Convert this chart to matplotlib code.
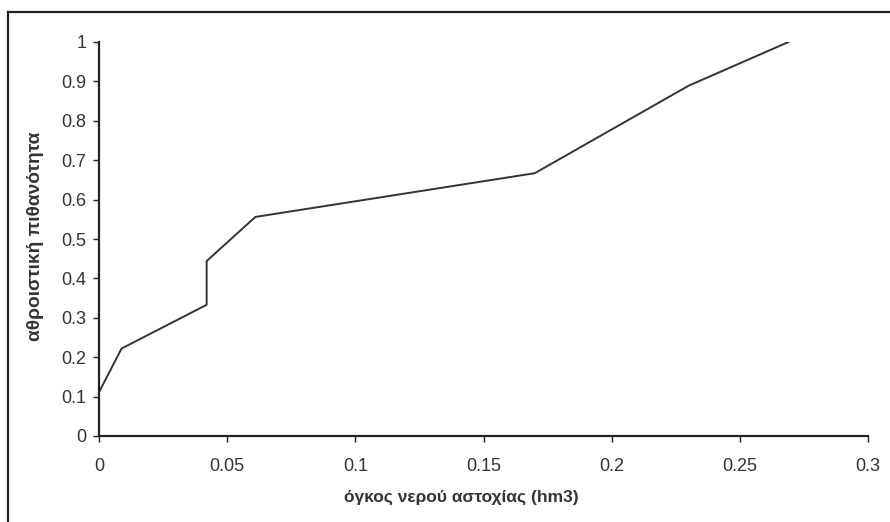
import matplotlib
matplotlib.use("Agg")
import matplotlib.pyplot as plt
from matplotlib.lines import Line2D

plt.rcParams['font.family'] = ['Liberation Sans', 'DejaVu Sans']

# δεδομένα
volume = [0.0, 0.0088, 0.042, 0.042, 0.061, 0.170, 0.200, 0.230, 0.269]
prob = [0.111, 0.222, 0.333, 0.444, 0.556, 0.667, 0.778, 0.889, 1.0]
xticks = [0, 0.05, 0.1, 0.15, 0.2, 0.25, 0.3]
yticks = [0, 0.1, 0.2, 0.3, 0.4, 0.5, 0.6, 0.7, 0.8, 0.9, 1]

W, H = 890, 522
fig = plt.figure(figsize=(W / 100, H / 100), dpi=100)
ax = fig.add_axes([99 / W, 1 - 436 / H, (868 - 99) / W, (436 - 42) / H])

ax.plot(volume, prob, color='#333333', lw=1.4)

ax.set_xlim(0, 0.3)
ax.set_ylim(0, 1)
ax.set_xticks(xticks)
ax.set_xticklabels([f'{v:g}' for v in xticks])
ax.set_yticks(yticks)
ax.set_yticklabels([f'{v:g}' for v in yticks])
ax.tick_params(direction='out', length=4, width=1, colors='#222222',
               labelsize=13, labelcolor='#333333')
ax.tick_params(axis='x', pad=12)
ax.tick_params(axis='y', pad=5)

for s in ['top', 'right']:
    ax.spines[s].set_visible(False)
for s in ['left', 'bottom']:
    ax.spines[s].set_linewidth(1.6)
    ax.spines[s].set_color('#222222')

fig.text(461 / W, 1 - 497 / H, 'όγκος νερού αστοχίας (hm3)', fontsize=12.5,
         fontweight='bold', color='#333333', ha='center', va='center')
fig.text(36 / W, 1 - 236 / H, 'αθροιστική πιθανότητα', fontsize=13.8,
         fontweight='bold', color='#333333', ha='center', va='center',
         rotation=90)

# πλαίσιο γραφήματος (μόνο αριστερά και πάνω είναι ορατά)
fig.add_artist(Line2D([8 / W, 8 / W], [0, 1 - 12 / H], transform=fig.transFigure,
                      color='#222222', lw=1.6))
fig.add_artist(Line2D([8 / W, 1], [1 - 12 / H, 1 - 12 / H], transform=fig.transFigure,
                      color='#222222', lw=1.6))

fig.savefig('out.png', dpi=100)
